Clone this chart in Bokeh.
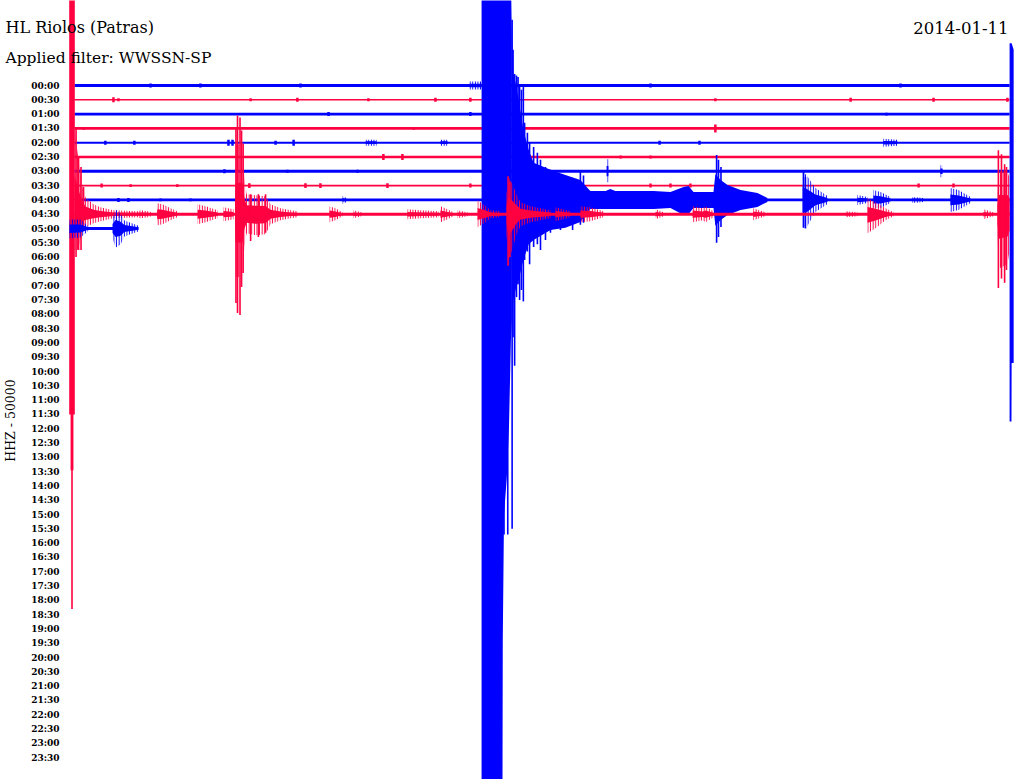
import math
from bokeh.plotting import figure
from bokeh.models import Range1d, Label
from bokeh.core.properties import value
from bokeh.embed import file_html
from bokeh.resources import INLINE

# ---------------- texts ----------------
TITLE = "HL Riolos (Patras)"
FILTER_TEXT = "Applied filter: WWSSN-SP"
DATE_TEXT = "2014-01-11"
AXIS_TEXT = "HHZ - 50000"
ROW_LABELS = ["00:00", "00:30", "01:00", "01:30", "02:00", "02:30", "03:00", "03:30",
              "04:00", "04:30", "05:00", "05:30", "06:00", "06:30", "07:00", "07:30",
              "08:00", "08:30", "09:00", "09:30", "10:00", "10:30", "11:00", "11:30",
              "12:00", "12:30", "13:00", "13:30", "14:00", "14:30", "15:00", "15:30",
              "16:00", "16:30", "17:00", "17:30", "18:00", "18:30", "19:00", "19:30",
              "20:00", "20:30", "21:00", "21:30", "22:00", "22:30", "23:00", "23:30"]

# ---------------- data (time in minutes within the 30-min line, amplitude in line spacings) -------
TRACE_ROWS = [0, 1, 2, 3, 4, 5, 6, 7, 8, 9, 10]
ROW_END = [30.0, 30.0, 30.0, 30.0, 30.0, 30.0, 30.0, 30.0, 30.0, 30.0, 2.05]
ROW_NOISE = [0.10, 0.056, 0.10, 0.10, 0.07, 0.09, 0.10, 0.056, 0.10, 0.10, 0.10]

# bursts: list of envelopes, each envelope a list of (minute, up, down)
ROW0_BURSTS = [[(12.67, 0.28, 0.28), (13.06, 0.28, 0.28)]]
ROW4_BURSTS = [[(9.34, 0.21, 0.21), (9.69, 0.21, 0.21)],
               [(11.74, 0.21, 0.21), (11.97, 0.21, 0.21)],
               [(25.95, 0.28, 0.28), (26.40, 0.21, 0.21)]]
ROW6_BURSTS = [[(17.07, 0.84, 0.77), (17.13, 0.84, 0.77)],
               [(27.78, 0.42, 0.42), (27.85, 0.42, 0.42)]]
ROW8_BURSTS = [
    [(8.60, 0.28, 0.28), (8.73, 0.14, 0.14)],
    [(13.06, 16.0, 42.0), (13.73, 16.0, 42.0), (13.74, 16.0, 30.8), (13.78, 16.0, 22.0),
     (13.87, 16.0, 19.4), (13.94, 16.0, 15.8), (14.00, 16.0, 9.9), (14.03, 11.5, 8.4)],
    [(14.03, 11.5, 8.4), (14.08, 8.8, 7.0), (14.15, 8.2, 6.3), (14.25, 7.0, 5.6), (14.40, 4.9, 4.2),
     (14.57, 3.5, 3.1), (14.73, 2.6, 2.8), (15.27, 2.1, 2.1), (15.75, 1.74, 1.95),
     (16.23, 1.40, 1.54), (16.46, 0.84, 0.84), (16.55, 0.63, 0.63), (17.04, 0.63, 0.63),
     (17.19, 0.77, 0.63), (17.35, 0.63, 0.63), (18.58, 0.63, 0.63), (19.12, 0.56, 0.56),
     (19.54, 0.91, 1.05), (19.70, 0.98, 0.98), (19.86, 0.56, 0.56), (20.50, 0.56, 0.56),
     (20.56, 1.8, 1.8), (20.73, 1.4, 1.4), (20.95, 1.05, 1.05), (21.37, 0.70, 0.70),
     (21.91, 0.49, 0.49), (22.23, 0.14, 0.14)],
    [(23.36, 1.95, 1.95), (23.48, 1.74, 1.95), (23.77, 0.84, 0.84), (24.16, 0.28, 0.28)],
    [(25.12, 0.35, 0.35), (25.44, 0.21, 0.21)],
    [(25.63, 0.70, 0.56), (25.86, 0.56, 0.56), (26.18, 0.21, 0.21)],
    [(26.88, 0.21, 0.21), (27.24, 0.14, 0.14)],
    [(28.10, 0.84, 0.84), (28.36, 0.70, 0.70), (28.75, 0.21, 0.21)],
    [(30.0, 10.96, 15.5), (30.06, 10.96, 15.5), (30.065, 10.96, 11.4), (30.13, 10.5, 11.4)],
]
ROW9_BURSTS = [
    [(-0.17, 15.5, 14.0), (0.01, 15.5, 14.0)],
    [(0.0, 6.07, 2.51), (0.10, 4.26, 2.51), (0.16, 3.28, 2.09), (0.26, 1.88, 1.12),
     (0.35, 1.19, 0.91), (0.61, 0.70, 0.63), (0.83, 0.49, 0.49), (1.25, 0.28, 0.28),
     (2.02, 0.21, 0.21), (2.12, 0.28, 0.28), (2.37, 0.21, 0.21), (2.50, 0.10, 0.10)],
    [(2.64, 0.10, 0.10), (2.66, 0.77, 0.77), (2.82, 0.70, 0.70), (3.08, 0.42, 0.42), (3.30, 0.21, 0.21)],
    [(3.95, 0.70, 0.70), (4.20, 0.56, 0.56), (4.59, 0.28, 0.28)],
    [(4.78, 0.49, 0.49), (5.10, 0.35, 0.35)],
    [(5.15, 1.0, 1.0), (5.17, 4.9, 4.4), (5.39, 4.9, 4.4), (5.45, 2.58, 2.30), (5.52, 1.40, 1.33),
     (5.81, 1.33, 1.47), (6.13, 1.26, 1.40), (6.29, 0.70, 0.70), (6.61, 0.42, 0.42),
     (6.93, 0.28, 0.28), (7.15, 0.21, 0.21)],
    [(8.18, 0.56, 0.56), (8.37, 0.42, 0.42), (8.60, 0.14, 0.14)],
    [(8.95, 0.28, 0.28), (9.21, 0.14, 0.14)],
    [(10.68, 0.35, 0.35), (11.10, 0.28, 0.28), (11.68, 0.21, 0.21)],
    [(11.74, 0.56, 0.56), (11.97, 0.35, 0.35), (12.16, 0.14, 0.14)],
    [(12.29, 0.28, 0.28), (12.61, 0.14, 0.14)],
    [(12.93, 0.98, 0.91), (13.19, 0.56, 0.56), (13.35, 0.28, 0.28), (13.67, 0.20, 0.20)],
    [(13.86, 1.40, 1.40), (13.92, 2.65, 3.28), (14.05, 2.09, 2.44), (14.18, 1.40, 1.40),
     (14.31, 0.84, 0.84), (14.63, 0.56, 0.56), (15.27, 0.28, 0.28)],
    [(15.43, 0.49, 0.49), (15.91, 0.21, 0.21)],
    [(16.23, 0.56, 0.56), (16.55, 0.49, 0.49), (16.97, 0.21, 0.21)],
    [(18.64, 0.35, 0.35), (18.90, 0.14, 0.14)],
    [(19.83, 0.56, 0.56), (20.15, 0.42, 0.42), (20.25, 0.56, 0.56), (20.50, 0.21, 0.21)],
    [(21.78, 0.42, 0.42), (22.17, 0.14, 0.14)],
    [(24.74, 0.21, 0.21), (25.12, 0.14, 0.14)],
    [(25.44, 1.12, 1.33), (25.70, 0.84, 0.98), (26.02, 0.42, 0.42), (26.28, 0.14, 0.14)],
    [(29.16, 0.35, 0.35), (29.48, 0.14, 0.14)],
    [(29.61, 1.40, 1.40), (29.66, 3.0, 3.8), (29.93, 3.0, 3.5), (30.0, 2.5, 2.5)],
]
ROW10_BURSTS = [
    [(-0.16, 0.63, 0.70), (0.19, 0.63, 0.63), (0.35, 0.35, 0.35), (0.45, 0.14, 0.14)],
    [(1.22, 0.70, 0.70), (1.32, 1.33, 1.33), (1.48, 1.05, 1.12), (1.60, 0.56, 0.56),
     (1.86, 0.35, 0.35), (2.05, 0.21, 0.21)],
]
BURSTS_BY_ROW = {0: ROW0_BURSTS, 4: ROW4_BURSTS, 6: ROW6_BURSTS, 8: ROW8_BURSTS,
                 9: ROW9_BURSTS, 10: ROW10_BURSTS}

# single wiggles: (minute, up, down)
ROW8_SPIKES = [(13.78, 0.0, 23.4), (13.90, 0.0, 23.4), (14.04, 12.6, 23.0), (14.07, 10.5, 9.6),
               (14.12, 8.8, 11.6), (14.18, 8.7, 6.8), (14.23, 8.6, 5.9), (14.28, 8.0, 7.0),
               (14.34, 7.7, 6.3), (14.40, 8.1, 7.1), (14.44, 5.4, 4.2), (14.53, 4.7, 3.6),
               (14.60, 4.0, 4.5), (14.73, 3.7, 3.3), (14.85, 3.3, 3.1), (14.95, 2.8, 3.5),
               (15.11, 2.3, 2.8), (15.27, 2.1, 2.3), (15.59, 1.5, 2.1), (15.98, 1.4, 2.1),
               (16.23, 2.0, 1.74), (16.33, 1.7, 1.6), (20.60, 3.14, 3.0), (20.66, 2.8, 2.6),
               (20.74, 2.3, 1.9), (23.39, 1.95, 1.95), (23.45, 1.6, 2.0)]
ROW9_SPIKES = [(-0.10, 0.0, 17.9), (-0.06, 0.0, 17.9), (-0.08, 0.0, 27.6), (0.05, 6.07, 3.0),
               (0.13, 4.0, 2.5), (0.21, 3.3, 2.5), (0.29, 1.9, 1.1), (5.18, 6.07, 6.21),
               (5.23, 6.91, 6.91), (5.31, 6.77, 7.05), (5.36, 5.86, 5.09), (5.41, 4.95, 4.12),
               (5.65, 1.40, 1.88), (5.90, 1.40, 1.60), (6.13, 1.40, 1.30), (13.91, 2.65, 3.6),
               (13.97, 2.3, 3.0), (29.64, 4.47, 5.16), (29.74, 4.2, 4.5), (29.84, 3.5, 4.8),
               (29.90, 3.3, 3.9)]
SPIKES_BY_ROW = {8: ROW8_SPIKES, 9: ROW9_SPIKES}

# small glitches on the quiet lines
SPECK_ROW = [0, 0, 0, 0, 0, 1, 1, 1, 1, 1, 1, 1, 1, 1, 1, 1, 2, 2, 2, 3, 3, 3,
             4, 4, 4, 4, 4, 4, 4, 4, 5, 5, 5, 5, 6, 6, 6,
             7, 7, 7, 7, 7, 7, 7, 7, 7, 7, 7, 7, 7, 8, 8, 8, 8]
SPECK_T = [2.44, 4.04, 7.25, 18.48, 26.5, 1.25, 1.41, 5.65, 7.15, 9.43, 11.58, 12.70, 27.56, 29.93, 20.56, 24.90,
           8.15, 12.70, 26.05, 0.29, 10.88, 20.56,
           0.99, 1.92, 4.94, 5.07, 6.45, 7.03, 18.77, 20.05, 9.91, 10.52, 17.52, 18.48, 4.81, 6.83, 9.08,
           0.87, 1.80, 3.30, 5.61, 7.41, 7.89, 10.04, 12.70, 18.48, 19.12, 19.76, 27.08, 28.20,
           1.41, 1.73, 2.76, 3.72]
SPECK_AMP = [0.14, 0.14, 0.14, 0.14, 0.14, 0.17, 0.10, 0.10, 0.14, 0.10, 0.14, 0.14, 0.14, 0.14, 0.10, 0.14,
             0.14, 0.14, 0.10, 0.10, 0.10, 0.28,
             0.14, 0.14, 0.21, 0.21, 0.14, 0.21, 0.14, 0.14, 0.21, 0.21, 0.10, 0.10, 0.14, 0.10, 0.10,
             0.14, 0.10, 0.10, 0.17, 0.17, 0.17, 0.17, 0.14, 0.14, 0.14, 0.14, 0.14, 0.14,
             0.14, 0.14, 0.10, 0.10]

# ---------------- styling / layout ----------------
BLUE = "#0000FF"
RED = "#FF0040"
W, H = 1018, 779
PX_PER_MIN = 31.17
PX_PER_ROW = 14.3
X0_PX = 74
Y0_PX = 85
CORE = 0.45          # solid part of a burst envelope
SATURATED = 9.0      # bursts this big are drawn as solid blocks

p = figure(width=W, height=H, output_backend="svg", toolbar_location=None,
           x_range=Range1d(-X0_PX / PX_PER_MIN, (W - X0_PX) / PX_PER_MIN),
           y_range=Range1d(-(H - Y0_PX) / PX_PER_ROW, Y0_PX / PX_PER_ROW),
           x_axis_location=None, y_axis_location=None, min_border=0, title=None)
p.grid.visible = False
p.outline_line_color = None
p.background_fill_color = "white"
p.border_fill_color = "white"

for row in TRACE_ROWS:
    col = BLUE if row % 2 == 0 else RED
    base = -row
    p.hbar(y=[base], left=[0.0], right=[ROW_END[row]], height=[2 * ROW_NOISE[row]],
           fill_color=col, line_color=None)
    for burst in BURSTS_BY_ROW.get(row, []):
        xs = [b[0] for b in burst]
        ups = [b[1] for b in burst]
        dns = [b[2] for b in burst]
        if max(ups + dns) >= SATURATED:
            p.varea(x=xs, y1=[base - d for d in dns], y2=[base + u for u in ups], fill_color=col)
            continue
        p.varea(x=xs, y1=[base - d for d in dns], y2=[base + u for u in ups],
                fill_alpha=0, hatch_pattern="vertical_line", hatch_color=col,
                hatch_scale=2.6, hatch_weight=1.3)
        p.varea(x=xs, y1=[base - CORE * d for d in dns], y2=[base + CORE * u for u in ups],
                fill_color=col)
    spikes = SPIKES_BY_ROW.get(row, [])
    if spikes:
        p.segment(x0=[s[0] for s in spikes], x1=[s[0] for s in spikes],
                  y0=[base + s[1] for s in spikes], y1=[base - s[2] for s in spikes],
                  line_color=col, line_width=1.6)
    idx = [i for i, r in enumerate(SPECK_ROW) if r == row]
    if idx:
        p.vbar(x=[SPECK_T[i] for i in idx], width=0.08,
               top=[base + SPECK_AMP[i] for i in idx], bottom=[base - SPECK_AMP[i] for i in idx],
               fill_color=col, line_color=None)

# hour labels
p.text(x=[-0.48] * len(ROW_LABELS), y=[-i for i in range(len(ROW_LABELS))], text=ROW_LABELS,
       text_align="right", text_baseline="middle", text_color="black",
       text_font=value("DejaVu Serif"), text_font_size=value("9px"), text_font_style="bold")

p.add_layout(Label(x=5, y=H - 27, x_units="screen", y_units="screen", text=TITLE,
                   text_font="DejaVu Serif", text_font_size="16px", text_baseline="middle",
                   text_align="left", text_color="black"))
p.add_layout(Label(x=5, y=H - 57, x_units="screen", y_units="screen", text=FILTER_TEXT,
                   text_font="DejaVu Serif", text_font_size="15.5px", text_baseline="middle",
                   text_align="left", text_color="black"))
p.add_layout(Label(x=1008, y=H - 27, x_units="screen", y_units="screen", text=DATE_TEXT,
                   text_font="DejaVu Serif", text_font_size="16.5px", text_baseline="middle",
                   text_align="right", text_color="black"))
p.add_layout(Label(x=10, y=H - 420, x_units="screen", y_units="screen", text=AXIS_TEXT,
                   angle=math.pi / 2, text_font="DejaVu Serif", text_font_size="12.5px",
                   text_baseline="middle", text_align="center", text_color="black"))

open("out.html", "w").write(file_html(p, INLINE))
